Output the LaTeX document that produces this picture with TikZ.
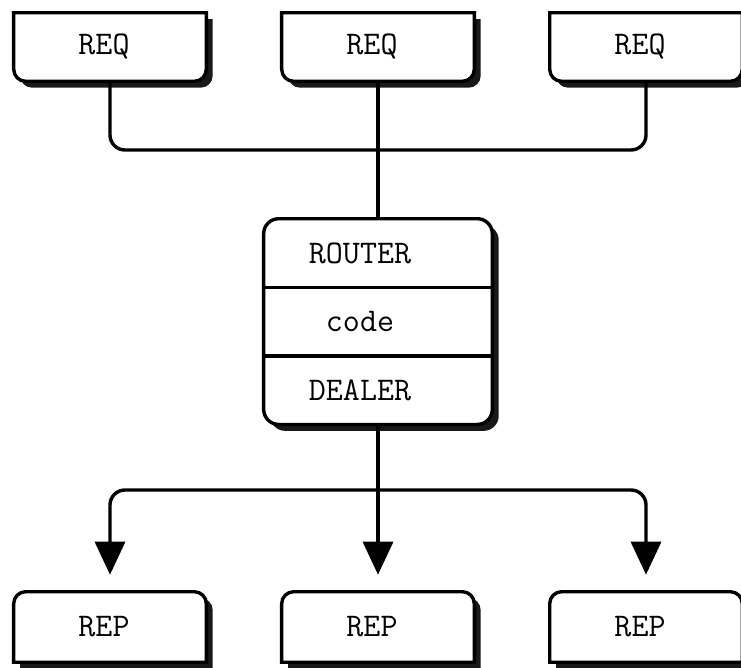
\documentclass[tikz,border=0pt]{standalone}
\usepackage{fontspec}
\usetikzlibrary{positioning, arrows.meta, backgrounds}

\begin{document}
\begin{tikzpicture}[x=0.025cm, y=-0.025cm, node distance=0cm,
	font=\fontsize{23.5}{27}\selectfont\ttfamily,
	>={Triangle[width=0.75cm, length=0.825cm]},
	sockbox/.style = { rectangle, inner sep=0pt,
	minimum width=4.8cm, minimum height=1.7cm,
	execute at end node={\hspace*{0.3cm}}},
	brokerrow/.style = { rectangle, inner sep=0pt,
	minimum width=5.7cm, minimum height=1.7cm,
	execute at end node={\hspace*{0.9cm}}},
	boxline/.style = { draw=black, line width=0.085cm, fill=white,
	preaction={fill=black!90, transform canvas={xshift=0.16cm, yshift=-0.16cm}}},
	wire/.style = { draw=black, line width=0.085cm} ]

  \useasboundingbox (0,0) rectangle (741,668);

  % clients
  \node [name=req1, sockbox] at (110,47) { REQ };
  \node [name=req2, sockbox] at (378,47) { REQ };
  \node [name=req3, sockbox] at (646,47) { REQ };

  % broker
  \node [name=router, brokerrow] at (378,253) { ROUTER };
  \node [name=code, brokerrow, below=of router] { code };
  \node [name=dealer, brokerrow, below=of code] { DEALER };

  % workers
  \node [name=rep1, sockbox, minimum height=1.75cm] at (110,627) { REP };
  \node [name=rep2, sockbox, minimum height=1.75cm] at (378,627) { REP };
  \node [name=rep3, sockbox, minimum height=1.75cm] at (646,627) { REP };

  \begin{scope}[on background layer]
    \foreach \n in {req1,req2,req3}
      \draw [boxline] (\n.north west) -- (\n.north east) [rounded corners=0.3cm]
        -- (\n.south east) -- (\n.south west) [sharp corners] -- cycle;
    \foreach \n in {rep1,rep2,rep3}
      \draw [boxline] (\n.south west) [rounded corners=0.3cm] -- (\n.north west)
        -- (\n.north east) [sharp corners] -- (\n.south east) -- cycle;
    \draw [boxline, rounded corners=0.375cm] (router.north west) rectangle (dealer.south east);
  \end{scope}

  \draw [wire] (router.south west) -- (router.south east)
               (code.south west) -- (code.south east);

  \coordinate (fanin) at (378,150);
  \coordinate (fanout) at (378,490);

  \draw [wire, rounded corners=0.375cm] (req1.south) -- (req1.south |- fanin)
    -- (req3.south |- fanin) -- (req3.south);
  \draw [wire] (req2.south) -- (router.north);
  \draw [wire, ->, shorten >=0.425cm] (dealer.south) -- (rep2.north);
  \draw [wire, <->, shorten >=0.425cm, shorten <=0.425cm, rounded corners=0.375cm]
    (rep1.north) -- (rep1.north |- fanout) -- (rep3.north |- fanout) -- (rep3.north);
\end{tikzpicture}
\end{document}
